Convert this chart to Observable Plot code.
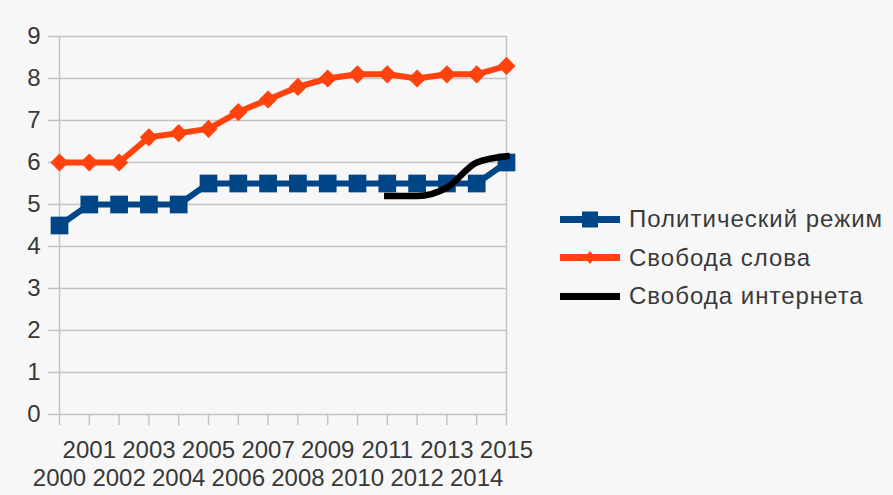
<!DOCTYPE html>
<html>
<head>
<meta charset="utf-8">
<script src="https://cdn.jsdelivr.net/npm/d3@7"></script>
<script src="https://cdn.jsdelivr.net/npm/@observablehq/plot@0.6"></script>
<style>
  html, body { margin: 0; padding: 0; background: #f7f7f7; }
  #wrap { position: relative; width: 893px; height: 495px; overflow: hidden; }
  #legend { position: absolute; left: 560px; top: 200px; font-family: "Liberation Sans", Arial, sans-serif; font-size: 24px; letter-spacing: 1px; color: #3a3a3a; }
  .row { display: flex; align-items: center; height: 38.5px; }
  .row svg { margin-right: 9px; }
</style>
</head>
<body>
<div id="wrap"><div id="legend"></div></div>
<script>
const years = [2000,2001,2002,2003,2004,2005,2006,2007,2008,2009,2010,2011,2012,2013,2014,2015];
const regime = [4.5,5,5,5,5,5.5,5.5,5.5,5.5,5.5,5.5,5.5,5.5,5.5,5.5,6];
const speech = [6,6,6,6.6,6.7,6.8,7.2,7.5,7.8,8.0,8.1,8.1,8.0,8.1,8.1,8.3];
const internetYears = [2011,2012,2013,2014,2015];
const internet = [5.2,5.2,5.4,6.0,6.15];
const yTicks = [0,1,2,3,4,5,6,7,8,9];
const seriesNames = ["Политический режим","Свобода слова","Свобода интернета"];
const seriesColors = ["#004586","#ff420e","#000000"];

const grid = "#c4c4c4";
const textColor = "#383838";
const oddYears = years.filter(y => y % 2 === 1);
const evenYears = years.filter(y => y % 2 === 0);

const chart = Plot.plot({
  width: 893, height: 495,
  marginLeft: 59, marginRight: 387, marginTop: 36, marginBottom: 81,
  style: {background: "#f7f7f7", fontFamily: "Liberation Sans, Arial, sans-serif", fontSize: "24px", color: textColor},
  x: {domain: [2000, 2015]},
  y: {domain: [0, 9]},
  marks: [
    Plot.gridY(yTicks, {stroke: grid, strokeOpacity: 1, strokeWidth: 1.5}),
    Plot.axisY(yTicks, {tickSize: 11, tickPadding: 8, stroke: grid, strokeWidth: 1.5, fill: textColor, label: null}),
    Plot.axisX(years, {tickSize: 11, tickFormat: () => "", stroke: grid, strokeWidth: 1.5, label: null}),
    Plot.axisX(oddYears, {tickSize: 0, tickPadding: 26, tickFormat: "d", fill: textColor, label: null}),
    Plot.axisX(evenYears, {tickSize: 0, tickPadding: 54, tickFormat: "d", fill: textColor, label: null}),
    Plot.ruleX([2000, 2015], {stroke: grid, strokeWidth: 1.5}),
    Plot.line(regime, {x: (d, i) => years[i], y: d => d, stroke: seriesColors[0], strokeWidth: 6}),
    Plot.dot(regime, {x: (d, i) => years[i], y: d => d, symbol: "square", r: 10, fill: seriesColors[0], stroke: "none"}),
    Plot.line(speech, {x: (d, i) => years[i], y: d => d, stroke: seriesColors[1], strokeWidth: 6}),
    Plot.dot(speech, {x: (d, i) => years[i], y: d => d, symbol: "diamond2", r: 8.2, fill: seriesColors[1], stroke: "none"}),
    Plot.line(internet, {x: (d, i) => internetYears[i], y: d => d, stroke: seriesColors[2], strokeWidth: 6.5, curve: "monotone-x", strokeLinecap: "square"})
  ]
});
document.getElementById("wrap").prepend(chart);

const legend = document.getElementById("legend");
const markers = [
  c => `<rect x="22" y="1.5" width="16" height="16" fill="${c}"/>`,
  c => `<path d="M30 3 L35 9.5 L30 16 L25 9.5 Z" fill="${c}"/>`,
  c => ``
];
seriesNames.forEach((name, i) => {
  const row = document.createElement("div");
  row.className = "row";
  row.innerHTML = `<svg width="60" height="19"><line x1="0" x2="60" y1="9.5" y2="9.5" stroke="${seriesColors[i]}" stroke-width="7"/>${markers[i](seriesColors[i])}</svg><span>${name}</span>`;
  legend.appendChild(row);
});
</script>
</body>
</html>
